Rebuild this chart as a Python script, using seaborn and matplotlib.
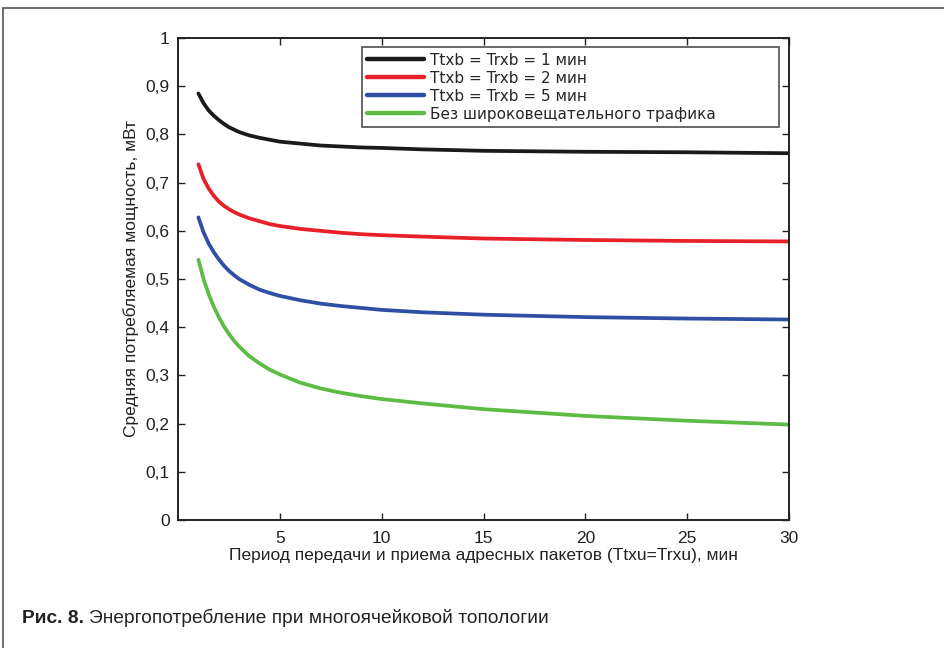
import numpy as np
import pandas as pd
import seaborn as sns
import matplotlib.pyplot as plt
from matplotlib.lines import Line2D

# period of addressed packets, min
period = [1, 1.25, 1.5, 1.75, 2, 2.25, 2.5, 2.75, 3, 3.5, 4, 4.5, 5, 6, 7, 8, 9, 10,
          12, 15, 20, 25, 30]

# average consumed power, mW
p_1min = [0.885, 0.865, 0.850, 0.839, 0.830, 0.822, 0.815, 0.810, 0.805, 0.798, 0.793,
          0.789, 0.785, 0.781, 0.777, 0.775, 0.773, 0.772, 0.769, 0.766, 0.764, 0.763, 0.761]
p_2min = [0.738, 0.708, 0.688, 0.673, 0.661, 0.652, 0.645, 0.639, 0.634, 0.626, 0.620,
          0.614, 0.610, 0.604, 0.600, 0.596, 0.593, 0.591, 0.588, 0.584, 0.581, 0.579, 0.578]
p_5min = [0.628, 0.597, 0.574, 0.556, 0.541, 0.528, 0.517, 0.508, 0.500, 0.488, 0.478,
          0.471, 0.465, 0.456, 0.449, 0.444, 0.440, 0.436, 0.431, 0.426, 0.421, 0.418, 0.416]
p_none = [0.540, 0.500, 0.469, 0.443, 0.421, 0.402, 0.386, 0.372, 0.360, 0.340, 0.325,
          0.312, 0.302, 0.285, 0.273, 0.264, 0.257, 0.251, 0.242, 0.230, 0.216, 0.206, 0.198]

labels = ['Ttxb = Trxb = 1 мин', 'Ttxb = Trxb = 2 мин', 'Ttxb = Trxb = 5 мин',
          'Без широковещательного трафика']
colors = ['#1a1a1a', '#e8202a', '#2e4fa3', '#5dbb46']

yticks = [0, 0.1, 0.2, 0.3, 0.4, 0.5, 0.6, 0.7, 0.8, 0.9, 1]
ytick_labels = ['0', '0,1', '0,2', '0,3', '0,4', '0,5', '0,6', '0,7', '0,8', '0,9', '1']
xticks = [5, 10, 15, 20, 25, 30]

frames = []
for lab, vals in zip(labels, [p_1min, p_2min, p_5min, p_none]):
    frames.append(pd.DataFrame({'x': period, 'y': vals, 'series': lab}))
df = pd.concat(frames, ignore_index=True)

sns.set_style('ticks')
plt.rcParams['font.family'] = ['Liberation Sans', 'DejaVu Sans']

fig = plt.figure(figsize=(9.44, 6.48), dpi=100)
ax = fig.add_axes([0.1886, 0.1975, 0.6472, 0.7438])

sns.lineplot(data=df, x='x', y='y', hue='series', hue_order=labels,
             palette=colors, linewidth=2.7, ax=ax)

ax.set_xlim(0, 30)
ax.set_ylim(0, 1)
ax.set_xticks(xticks)
ax.set_xticklabels([str(t) for t in xticks])
ax.set_yticks(yticks)
ax.set_yticklabels(ytick_labels)
ax.tick_params(direction='in', top=True, right=True, length=5, width=1,
               labelsize=12.5, colors='#222222', labelcolor='#222222', pad=6)
ax.tick_params(axis='x', pad=8)
for s in ax.spines.values():
    s.set_linewidth(1.4)
    s.set_color('#222222')

ax.set_xlabel('Период передачи и приема адресных пакетов (Ttxu=Trxu), мин',
              fontsize=12.5, color='#222222', labelpad=1)
ax.set_ylabel('Средняя потребляемая мощность, мВт', fontsize=12.5,
              color='#222222', labelpad=5)

leg = ax.legend(loc='upper left', bbox_to_anchor=(0.301, 0.81, 0.683, 0.171),
                mode='expand', borderaxespad=0, frameon=True, fancybox=False,
                edgecolor='#222222', handlelength=3.7, handletextpad=0.4,
                labelspacing=0.2, borderpad=0.35,
                prop={'family': ['DejaVu Sans'], 'size': 11})
leg.get_frame().set_linewidth(1.2)
for h in leg.get_lines():
    h.set_linewidth(3.2)

# outer frame of the figure
fig.add_artist(Line2D([0.0032, 1.0], [0.9877, 0.9877], color='#555555', lw=1.2))
fig.add_artist(Line2D([0.0032, 0.0032], [0.0, 0.9877], color='#555555', lw=1.2))

t1 = fig.text(0.023, 0.039, 'Рис. 8.', fontsize=13.8, fontweight='bold', color='#222222',
              va='baseline')
fig.add_artist(plt.Annotation('Энергопотребление при многоячейковой топологии',
                              xy=(1, 0), xycoords=t1, xytext=(3.5, 0),
                              textcoords='offset points', va='bottom',
                              fontsize=13.8, color='#222222'))

fig.savefig('out.png', dpi=100)
